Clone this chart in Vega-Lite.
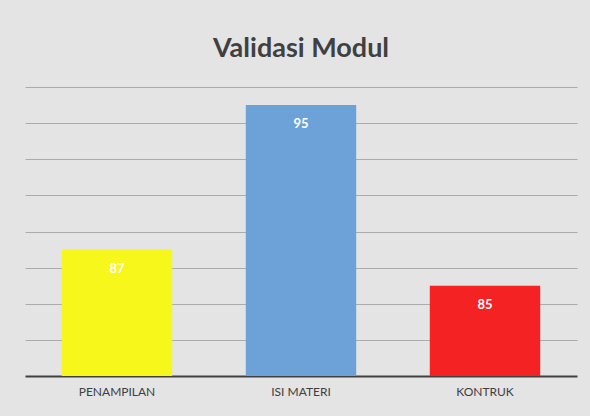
{
  "$schema": "https://vega.github.io/schema/vega-lite/v6.json",
  "width": 552,
  "height": 289,
  "autosize": {"type": "none"},
  "padding": {"left": 25, "top": 87, "right": 13, "bottom": 40},
  "background": "#e4e4e4",
  "config": {
    "view": {"stroke": null},
    "font": "Lato"
  },
  "title": {
    "text": "Validasi Modul",
    "font": "Lato",
    "fontSize": 27,
    "fontWeight": "bold",
    "color": "#404040",
    "baseline": "alphabetic",
    "offset": 31,
    "dy": 28,
    "anchor": "middle"
  },
  "data": {
    "values": [
      {"kategori": "PENAMPILAN", "nilai": 87},
      {"kategori": "ISI MATERI", "nilai": 95},
      {"kategori": "KONTRUK", "nilai": 85}
    ]
  },
  "layer": [
    {
      "mark": {"type": "bar", "clip": true},
      "encoding": {
        "x": {
          "field": "kategori",
          "type": "nominal",
          "sort": null,
          "scale": {"paddingInner": 0.4, "paddingOuter": 0.2},
          "axis": {
            "title": null,
            "labelAngle": 0,
            "ticks": false,
            "labelPadding": 10,
            "labelFont": "Lato",
            "labelFontSize": 12,
            "labelColor": "#404040",
            "domainColor": "#404040",
            "domainWidth": 2
          }
        },
        "y": {
          "field": "nilai",
          "type": "quantitative",
          "scale": {"domain": [80, 96], "zero": false, "nice": false},
          "axis": {
            "title": null,
            "labels": false,
            "ticks": false,
            "domain": false,
            "values": [82, 84, 86, 88, 90, 92, 94, 96],
            "gridColor": "#ababab",
            "gridWidth": 1
          }
        },
        "color": {
          "field": "kategori",
          "type": "nominal",
          "scale": {
            "domain": ["PENAMPILAN", "ISI MATERI", "KONTRUK"],
            "range": ["#f7f71c", "#6ca2d8", "#f42222"]
          },
          "legend": null
        }
      }
    },
    {
      "mark": {
        "type": "text",
        "dy": 19,
        "baseline": "middle",
        "color": "white",
        "fontWeight": "bold",
        "fontSize": 13,
        "font": "Lato"
      },
      "encoding": {
        "x": {"field": "kategori", "type": "nominal", "sort": null},
        "y": {"field": "nilai", "type": "quantitative"},
        "text": {"field": "nilai", "type": "quantitative"}
      }
    }
  ]
}
